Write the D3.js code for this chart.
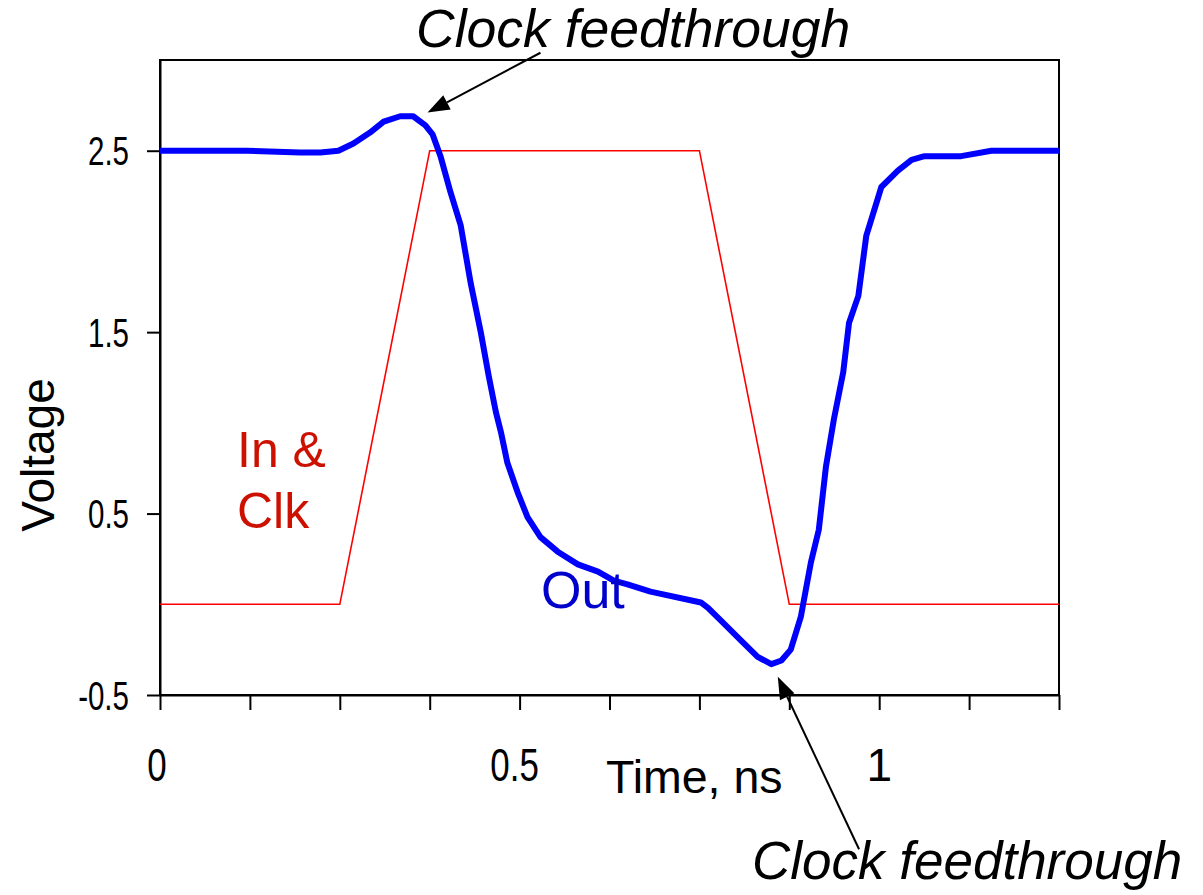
<!DOCTYPE html>
<html>
<head>
<meta charset="utf-8">
<script src="https://cdn.jsdelivr.net/npm/d3@7"></script>
<style>
  html, body { margin: 0; padding: 0; background: #fff; }
  svg { display: block; }
</style>
</head>
<body>
<svg id="chart" width="1203" height="895"></svg>
<script>
// ---- data ----
const timeIn = [0, 0.25, 0.375, 0.75, 0.875, 1.25];
const voltIn = [0, 0, 2.5, 2.5, 0, 0];

const timeOut = [0, 0.121, 0.195, 0.223, 0.248, 0.269, 0.292, 0.311, 0.334, 0.352,
  0.369, 0.379, 0.390, 0.404, 0.418, 0.432, 0.446, 0.457, 0.467, 0.474,
  0.483, 0.497, 0.511, 0.529, 0.553, 0.581, 0.609, 0.631, 0.650, 0.682,
  0.752, 0.762, 0.780, 0.808, 0.831, 0.850, 0.864, 0.877, 0.891, 0.905,
  0.916, 0.926, 0.937, 0.950, 0.958, 0.971, 0.982, 1.003, 1.026, 1.045,
  1.063, 1.114, 1.156, 1.25];
const voltOut = [2.5, 2.5, 2.49, 2.49, 2.5, 2.54, 2.6, 2.66, 2.69, 2.69,
  2.64, 2.59, 2.47, 2.27, 2.09, 1.77, 1.5, 1.26, 1.06, 0.95,
  0.78, 0.62, 0.48, 0.37, 0.29, 0.22, 0.18, 0.13, 0.11, 0.07,
  0.01, -0.02, -0.09, -0.2, -0.29, -0.33, -0.31, -0.25, -0.07, 0.23,
  0.41, 0.76, 1.02, 1.28, 1.55, 1.7, 2.03, 2.3, 2.39, 2.45,
  2.47, 2.47, 2.5, 2.5];

const xTicks = [0, 0.125, 0.25, 0.375, 0.5, 0.625, 0.75, 0.875, 1, 1.125, 1.25];
const xTickLabels = ["0", "", "", "", "0.5", "", "", "", "1", "", ""];
const yTicks = [-0.5, 0.5, 1.5, 2.5];
const yTickLabels = ["-0.5", "0.5", "1.5", "2.5"];

// annotations (data coordinates): [tailT, tailV, tipT, tipV]
const arrowTop = [0.529, 3.04, 0.372, 2.71];
const arrowBottom = [0.972, -1.35, 0.859, -0.40];

// ---- layout ----
const svg = d3.select("#chart");
const X0 = 160, X1 = 1059, Y0 = 695, Y1 = 60;
const x = d3.scaleLinear().domain([0, 1.25]).range([X0, X1]);
const y = d3.scaleLinear().domain([-0.5, 3]).range([Y0, Y1]);

const sans = "'Liberation Sans', Arial, Helvetica, sans-serif";

// frame
svg.append("rect").attr("x", X0).attr("y", Y1).attr("width", X1 - X0).attr("height", Y0 - Y1)
  .attr("fill", "none").attr("stroke", "#000").attr("stroke-width", 2);

// x axis
const xAxis = d3.axisBottom(x).tickValues(xTicks).tickSize(15).tickSizeOuter(0).tickFormat("");
const gx = svg.append("g").attr("transform", `translate(0,${Y0})`).call(xAxis);
gx.select(".domain").attr("stroke", "#000").attr("stroke-width", 2);
gx.selectAll(".tick line").attr("stroke", "#000").attr("stroke-width", 2);

// x tick labels
xTicks.forEach((t, i) => {
  const lab = xTickLabels[i];
  if (!lab) return;
  const condensed = lab !== "1";
  const g = svg.append("g").attr("transform", `translate(${x(t) - (lab === "0.5" ? 5 : (lab === "0" ? 3 : 0))},781) scale(${condensed ? 0.76 : 1},1)`);
  g.append("text").attr("text-anchor", "middle").attr("font-family", sans)
    .attr("font-size", condensed ? 46 : 46).attr("fill", "#000").text(lab);
});

// y axis
const yAxis = d3.axisLeft(y).tickValues(yTicks).tickSize(13).tickSizeOuter(0).tickFormat("");
const gy = svg.append("g").attr("transform", `translate(${X0},0)`).call(yAxis);
gy.select(".domain").attr("stroke", "#000").attr("stroke-width", 2);
gy.selectAll(".tick line").attr("stroke", "#000").attr("stroke-width", 2);

yTicks.forEach((v, i) => {
  const g = svg.append("g").attr("transform", `translate(129,${y(v) + 14.5}) scale(0.72,1)`);
  g.append("text").attr("text-anchor", "end").attr("font-family", sans)
    .attr("font-size", 41).attr("fill", "#000").text(yTickLabels[i]);
});

// lines
const inData = timeIn.map((t, i) => [t, voltIn[i]]);
const outData = timeOut.map((t, i) => [t, voltOut[i]]);
const line = d3.line().x(d => x(d[0])).y(d => y(d[1])).curve(d3.curveLinear);

svg.append("path").datum(inData).attr("d", line)
  .attr("fill", "none").attr("stroke", "#ff0000").attr("stroke-width", 1.6);
svg.append("path").datum(outData).attr("d", line)
  .attr("fill", "none").attr("stroke", "#0000ff").attr("stroke-width", 6)
  .attr("stroke-linejoin", "round").attr("stroke-linecap", "butt");

// arrows
function arrow(a) {
  const x1 = x(a[0]), y1 = y(a[1]), x2 = x(a[2]), y2 = y(a[3]);
  const ang = Math.atan2(y2 - y1, x2 - x1);
  const L = 22, W = 8;
  const bx = x2 - L * Math.cos(ang), by = y2 - L * Math.sin(ang);
  svg.append("line").attr("x1", x1).attr("y1", y1).attr("x2", bx).attr("y2", by)
    .attr("stroke", "#000").attr("stroke-width", 2);
  const px = -Math.sin(ang) * W, py = Math.cos(ang) * W;
  svg.append("path")
    .attr("d", `M${x2},${y2}L${bx + px},${by + py}L${bx - px},${by - py}Z`)
    .attr("fill", "#000");
}
arrow(arrowTop);
arrow(arrowBottom);

// texts
svg.append("text").attr("x", 416).attr("y", 47).attr("font-family", sans)
  .attr("font-style", "italic").attr("font-size", 53.5).attr("fill", "#000").text("Clock feedthrough");
svg.append("text").attr("x", 752).attr("y", 879).attr("font-family", sans)
  .attr("font-style", "italic").attr("font-size", 53).attr("fill", "#000").text("Clock feedthrough");

svg.append("text").attr("x", 237).attr("y", 467).attr("font-family", sans)
  .attr("font-size", 50).attr("fill", "#cc1100").text("In &");
svg.append("text").attr("x", 237).attr("y", 528).attr("font-family", sans)
  .attr("font-size", 50).attr("fill", "#cc1100").text("Clk");

svg.append("text").attr("x", 541).attr("y", 608).attr("font-family", sans)
  .attr("font-size", 52).attr("fill", "#0000cc").text("Out");

svg.append("text").attr("x", 606).attr("y", 793).attr("font-family", sans)
  .attr("font-size", 46.5).attr("fill", "#000").text("Time, ns");

svg.append("text").attr("transform", "translate(54,455) rotate(-90)")
  .attr("text-anchor", "middle").attr("font-family", sans)
  .attr("font-size", 46).attr("fill", "#000").text("Voltage");
</script>
</body>
</html>
